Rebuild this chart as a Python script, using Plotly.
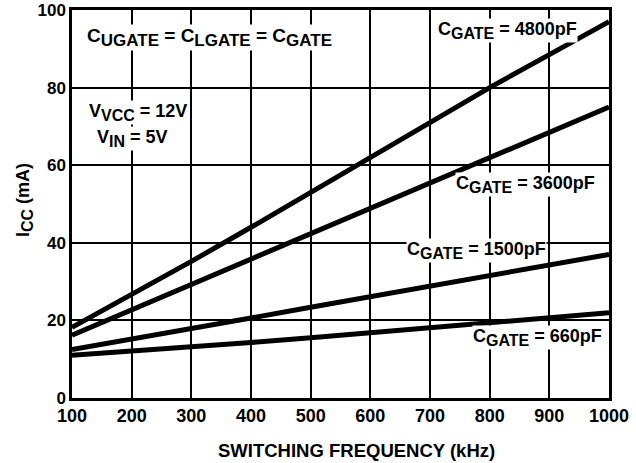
import plotly.graph_objects as go

freq_khz = [100, 200, 300, 400, 500, 600, 700, 800, 900, 1000]
icc_4800pf = [18.2, 26.6, 35.2, 44.0, 53.0, 62.0, 71.0, 80.0, 88.5, 97.0]
icc_3600pf = [16.2, 22.7, 29.2, 35.8, 42.3, 48.9, 55.5, 62.0, 68.5, 75.0]
icc_1500pf = [12.5, 15.1, 17.8, 20.6, 23.4, 26.1, 29.0, 31.8, 34.5, 37.0]
icc_660pf = [11.0, 12.0, 13.1, 14.3, 15.5, 16.8, 18.0, 19.4, 20.7, 22.0]

x_ticks = [100, 200, 300, 400, 500, 600, 700, 800, 900, 1000]
y_ticks = [0, 20, 40, 60, 80, 100]

FONT = "Arial, Liberation Sans, sans-serif"


def sub(s, size=16):
    # plotly shrinks <sub> to 70%, the chart's subscripts are nearly full size
    return f"<sub><span style='font-size:{size}px'>{s}</span></sub>"


fig = go.Figure()
for ys in [icc_4800pf, icc_3600pf, icc_1500pf, icc_660pf]:
    fig.add_trace(go.Scatter(x=freq_khz, y=ys, mode="lines",
                             line=dict(color="black", width=5),
                             showlegend=False, hoverinfo="skip"))

labels = [
    ("C" + sub("UGATE", 17) + " = C" + sub("LGATE", 17) + " = C" + sub("GATE", 17), 331, 93, "center", 19),
    ("V" + sub("VCC") + " = 12V", 127, 73.7, "left", 18),
    ("V" + sub("IN") + " = 5V", 140, 66.8, "left", 18),
    ("C" + sub("GATE") + " = 4800pF", 712, 94.8, "left", 18),
    ("C" + sub("GATE") + " = 3600pF", 742, 54.9, "left", 18),
    ("C" + sub("GATE") + " = 1500pF", 660, 37.9, "left", 18),
    ("C" + sub("GATE") + " = 660pF", 770, 15.5, "left", 18),
]
for text, x, y, anchor, size in labels:
    fig.add_annotation(x=x, y=y, text="<b>" + text + "</b>", showarrow=False,
                       xanchor=anchor, yanchor="middle", bgcolor="white",
                       borderpad=0,
                       font=dict(family=FONT, size=size, color="black"))

# axis titles as annotations so they can be placed exactly
fig.add_annotation(xref="paper", yref="paper", x=0, y=0.51, xshift=-48,
                   text="<b>I" + sub("CC") + " (mA)</b>", textangle=-90,
                   showarrow=False, xanchor="center", yanchor="middle",
                   font=dict(family=FONT, size=18, color="black"))
fig.add_annotation(xref="paper", yref="paper", x=0.5, y=0, xshift=16, yshift=-52,
                   text="<b>SWITCHING FREQUENCY (kHz)</b>",
                   showarrow=False, xanchor="center", yanchor="middle",
                   font=dict(family=FONT, size=18.5, color="black"))

fig.update_layout(
    width=636, height=463,
    margin=dict(l=72, r=27, t=10, b=65, autoexpand=False),
    plot_bgcolor="white", paper_bgcolor="white",
    font=dict(family=FONT, size=18, color="black"),
)
fig.update_xaxes(range=[100, 1000], tickvals=x_ticks, showgrid=True,
                 gridcolor="black", gridwidth=2, showline=True, linecolor="black",
                 linewidth=2.5, mirror=True, zeroline=False, ticks="",
                 automargin=False,
                 tickfont=dict(family=FONT, size=18, color="black", weight="bold"))
fig.update_yaxes(range=[0, 100], tickvals=y_ticks, showgrid=True,
                 gridcolor="black", gridwidth=2, showline=True, linecolor="black",
                 linewidth=2.5, mirror=True, zeroline=False, ticks="",
                 automargin=False,
                 tickfont=dict(family=FONT, size=17, color="black", weight="bold"))

fig.write_html("out.html", config={"displayModeBar": False},
               post_script="document.body.style.margin='0';")
